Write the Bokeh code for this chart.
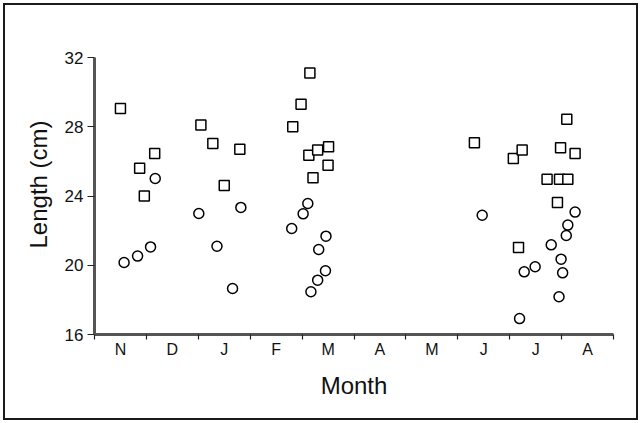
from bokeh.plotting import figure
from bokeh.models import FixedTicker, Range1d, Title
from bokeh.embed import file_html
from bokeh.resources import INLINE

# Month tick labels (sampling Nov -> Aug), positions in months since 1 Nov
month_labels = ["N", "D", "J", "F", "M", "A", "M", "J", "J", "A"]

# Squares series (month position, length in cm)
sq_month = [0.50, 0.87, 0.96, 1.16, 2.05, 2.28, 2.50, 2.80, 3.82, 3.98, 4.15, 4.13, 4.30, 4.51,
            4.21, 4.50, 7.32, 8.07, 8.24, 8.17, 8.72, 8.96, 9.12, 8.92, 8.98, 9.10, 9.26]
sq_length = [29.05, 25.6, 24.0, 26.45, 28.1, 27.03, 24.6, 26.7, 28.0, 29.3, 31.1, 26.36, 26.65, 26.84,
             25.05, 25.78, 27.07, 26.17, 26.65, 21.03, 24.97, 24.97, 24.97, 23.62, 26.78, 28.44, 26.45]

# Circles series (month position, length in cm)
ci_month = [0.57, 0.83, 1.08, 1.17, 2.01, 2.36, 2.66, 2.82, 3.80, 4.02, 4.11, 4.17, 4.30, 4.32,
            4.46, 4.45, 7.47, 8.19, 8.28, 8.49, 8.80, 8.95, 8.99, 9.02, 9.09, 9.12, 9.26]
ci_length = [20.16, 20.53, 21.06, 25.01, 22.99, 21.1, 18.66, 23.34, 22.12, 22.97, 23.57, 18.47, 19.14,
             20.91, 21.68, 19.68, 22.89, 16.92, 19.62, 19.91, 21.18, 18.18, 20.35, 19.56, 21.72, 22.32, 23.07]

y_ticks = [16, 20, 24, 28, 32]

FONT = "Liberation Sans"

p = figure(width=631, height=413, output_backend="svg", toolbar_location=None,
           x_range=Range1d(0, 10), y_range=Range1d(16, 32),
           min_border_left=89, min_border_right=23, min_border_top=52, min_border_bottom=84)
p.styles = {"margin": "5px", "outline": "2px solid #1a1a1a", "outline-offset": "0px"}

p.grid.visible = False
p.outline_line_color = None
p.background_fill_color = "white"
p.border_fill_color = "white"

p.scatter(sq_month, sq_length, marker="square", size=10, line_color="black", line_width=1.5,
          fill_color="white")
p.scatter(ci_month, ci_length, marker="circle", size=10, line_color="black", line_width=1.5,
          fill_color="white")

# x axis: labels at month centres, tick marks at month boundaries
centers = [i + 0.5 for i in range(len(month_labels))]
xa = p.xaxis[0]
xa.ticker = FixedTicker(ticks=centers, minor_ticks=list(range(0, len(month_labels) + 1)))
xa.major_label_overrides = {c: lab for c, lab in zip(centers, month_labels)}
xa.major_tick_out = 0
xa.major_tick_in = 0
xa.minor_tick_out = 5
xa.minor_tick_in = 0
xa.minor_tick_line_width = 1.2
xa.minor_tick_line_color = "#222"
xa.axis_line_width = 3
xa.axis_line_color = "#555"
xa.major_label_text_font = FONT
xa.major_label_text_font_size = "16px"
xa.major_label_text_color = "#111"
xa.major_label_standoff = 1
xa.axis_label = "Month"
xa.axis_label_text_font = FONT
xa.axis_label_text_font_size = "24px"
xa.axis_label_text_font_style = "normal"
xa.axis_label_text_color = "#111"
xa.axis_label_standoff = 11

ya = p.yaxis[0]
ya.ticker = FixedTicker(ticks=y_ticks, minor_ticks=[])
ya.major_tick_out = 7
ya.major_tick_in = 0
ya.major_tick_line_color = "#222"
ya.major_tick_line_width = 1.2
ya.axis_line_width = 3
ya.axis_line_color = "#555"
ya.major_label_text_font = FONT
ya.major_label_text_font_size = "17px"
ya.major_label_text_color = "#111"
ya.major_label_standoff = 4

ytitle = Title(text="Length (cm)", align="left", offset=86, standoff=19,
               text_font=FONT, text_font_size="24px", text_font_style="normal",
               text_color="#111")
p.add_layout(ytitle, "left")

open("out.html", "w").write(file_html(p, INLINE))
